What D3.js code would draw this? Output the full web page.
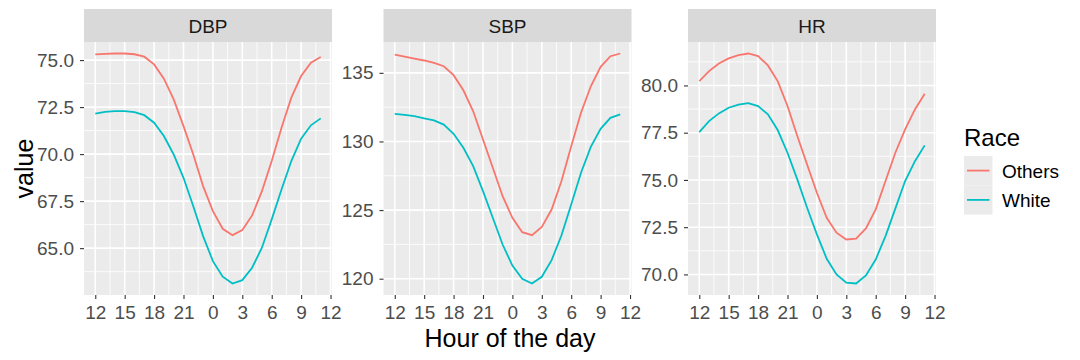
<!DOCTYPE html>
<html>
<head>
<meta charset="utf-8">
<script src="https://cdn.jsdelivr.net/npm/d3@7"></script>
<style>
  body { margin: 0; background: #fff; }
  text { font-family: "Liberation Sans", Arial, sans-serif; }
</style>
</head>
<body>
<svg id="chart" width="1080" height="360"></svg>
<script>
// hour of day, starting at noon
const hours = [12, 13, 14, 15, 16, 17, 18, 19, 20, 21, 22, 23, 0, 1, 2, 3, 4, 5, 6, 7, 8, 9, 10, 11];

const dbpOthers = [75.30, 75.33, 75.35, 75.35, 75.31, 75.18, 74.77, 74.01, 72.91, 71.49, 69.98, 68.30,
  66.97, 66.03, 65.69, 65.96, 66.74, 68.03, 69.63, 71.40, 73.00, 74.15, 74.86, 75.16];
const dbpWhite = [72.15, 72.25, 72.29, 72.29, 72.23, 72.07, 71.67, 70.96, 69.98, 68.74, 67.23, 65.64,
  64.31, 63.48, 63.12, 63.30, 63.96, 65.02, 66.53, 68.12, 69.63, 70.82, 71.53, 71.90];

const sbpOthers = [136.33, 136.19, 136.04, 135.90, 135.73, 135.48, 134.83, 133.73, 132.20, 130.14, 128.08, 126.01,
  124.44, 123.39, 123.17, 123.78, 125.04, 127.10, 129.65, 132.09, 134.02, 135.44, 136.21, 136.41];
const sbpWhite = [132.01, 131.94, 131.84, 131.69, 131.53, 131.23, 130.56, 129.54, 128.20, 126.38, 124.44, 122.49,
  120.96, 119.99, 119.65, 120.14, 121.35, 123.15, 125.41, 127.72, 129.61, 130.92, 131.72, 131.98];

const hrOthers = [80.23, 80.76, 81.16, 81.43, 81.60, 81.69, 81.55, 81.06, 80.23, 78.91, 77.32, 75.82,
  74.32, 73.00, 72.21, 71.85, 71.90, 72.43, 73.44, 74.94, 76.44, 77.67, 78.73, 79.56];
const hrWhite = [77.53, 78.11, 78.52, 78.82, 78.98, 79.06, 78.91, 78.47, 77.64, 76.44, 75.03, 73.53,
  72.12, 70.83, 70.00, 69.56, 69.52, 69.95, 70.79, 72.03, 73.48, 74.94, 75.99, 76.83];

const panelNames = ['DBP', 'SBP', 'HR'];
const xBreaks = [12, 15, 18, 21, 24, 27, 30, 33, 36];
const xLabels = ['12', '15', '18', '21', '0', '3', '6', '9', '12'];
const dbpBreaks = [65, 67.5, 70, 72.5, 75];
const sbpBreaks = [120, 125, 130, 135];
const hrBreaks = [70, 72.5, 75, 77.5, 80];
const raceNames = ['Others', 'White'];
const raceColors = ['#F8766D', '#00BFC4'];

const panels = [
  { name: panelNames[0], series: [dbpOthers, dbpWhite], breaks: dbpBreaks, fmt: d3.format('.1f') },
  { name: panelNames[1], series: [sbpOthers, sbpWhite], breaks: sbpBreaks, fmt: d3.format('d') },
  { name: panelNames[2], series: [hrOthers, hrWhite], breaks: hrBreaks, fmt: d3.format('.1f') },
];

const svg = d3.select('#chart');
const panelLefts = [84, 383.5, 688];
const panelW = 248;
const stripTop = 9, panelTop = 42, panelBottom = 295;

// hours after midnight continue the day: 0 -> 24 ... 11 -> 35
const hourPos = (h) => (h < 12 ? h + 24 : h);

function expand(ext) {
  const pad = (ext[1] - ext[0]) * 0.05;
  return [ext[0] - pad, ext[1] + pad];
}

function minorOf(breaks, domain) {
  const step = breaks[1] - breaks[0];
  return [breaks[0] - step].concat(breaks).map((b) => b + step / 2)
    .filter((v) => v > domain[0] && v < domain[1]);
}

panels.forEach((p, k) => {
  const x0 = panelLefts[k];
  const x = d3.scaleLinear().domain(expand(d3.extent(hours, hourPos))).range([x0, x0 + panelW]);
  const y = d3.scaleLinear().domain(expand(d3.extent(p.series.flat()))).range([panelBottom, panelTop]);
  const g = svg.append('g');

  g.append('rect')
    .attr('x', x0).attr('y', panelTop)
    .attr('width', panelW).attr('height', panelBottom - panelTop)
    .attr('fill', '#EBEBEB');

  // minor grid
  g.selectAll('.xminor').data(minorOf(xBreaks, x.domain())).join('line')
    .attr('x1', (d) => x(d)).attr('x2', (d) => x(d))
    .attr('y1', panelTop).attr('y2', panelBottom)
    .attr('stroke', '#fff').attr('stroke-width', 0.8);
  g.selectAll('.yminor').data(minorOf(p.breaks, y.domain())).join('line')
    .attr('x1', x0).attr('x2', x0 + panelW)
    .attr('y1', (d) => y(d)).attr('y2', (d) => y(d))
    .attr('stroke', '#fff').attr('stroke-width', 0.8);

  // major grid
  g.append('g').selectAll('line').data(xBreaks).join('line')
    .attr('x1', (d) => x(d)).attr('x2', (d) => x(d))
    .attr('y1', panelTop).attr('y2', panelBottom)
    .attr('stroke', '#fff').attr('stroke-width', 1.6);
  g.append('g').selectAll('line').data(p.breaks).join('line')
    .attr('x1', x0).attr('x2', x0 + panelW)
    .attr('y1', (d) => y(d)).attr('y2', (d) => y(d))
    .attr('stroke', '#fff').attr('stroke-width', 1.6);

  const line = d3.line()
    .x((d, i) => x(hourPos(hours[i])))
    .y((d) => y(d));
  p.series.forEach((vals, s) => {
    g.append('path')
      .datum(vals)
      .attr('d', line)
      .attr('fill', 'none')
      .attr('stroke', raceColors[s])
      .attr('stroke-width', 1.8);
  });

  // strip
  g.append('rect')
    .attr('x', x0).attr('y', stripTop)
    .attr('width', panelW).attr('height', panelTop - stripTop)
    .attr('fill', '#D9D9D9');
  g.append('text')
    .attr('x', x0 + panelW / 2).attr('y', 32.5)
    .attr('text-anchor', 'middle').attr('fill', '#1A1A1A').attr('font-size', 19)
    .text(p.name);

  const xAxis = g.append('g').attr('transform', `translate(0,${panelBottom})`)
    .call(d3.axisBottom(x).tickValues(xBreaks).tickFormat((d, i) => xLabels[i]).tickSize(4).tickPadding(6.5));
  const yAxis = g.append('g').attr('transform', `translate(${x0},0)`)
    .call(d3.axisLeft(y).tickValues(p.breaks).tickFormat(p.fmt).tickSize(4).tickPadding(6));
  [xAxis, yAxis].forEach((ax) => {
    ax.select('.domain').remove();
    ax.selectAll('.tick line').attr('stroke', '#333333').attr('stroke-width', 1.1);
    ax.selectAll('.tick text').attr('fill', '#4D4D4D').attr('font-size', 19)
      .attr('font-family', '"Liberation Sans", Arial, sans-serif');
  });
});

// axis titles
svg.append('text')
  .attr('x', (panelLefts[0] + panelLefts[2] + panelW) / 2).attr('y', 346.5)
  .attr('text-anchor', 'middle').attr('fill', '#000').attr('font-size', 25)
  .text('Hour of the day');
svg.append('text')
  .attr('transform', `translate(33,${(panelTop + panelBottom) / 2}) rotate(-90)`)
  .attr('text-anchor', 'middle').attr('fill', '#000').attr('font-size', 25)
  .text('value');

// legend
const legend = svg.append('g').attr('transform', 'translate(964,0)');
legend.append('text').attr('x', 0).attr('y', 145.5)
  .attr('fill', '#000').attr('font-size', 24).text('Race');
raceNames.forEach((name, i) => {
  const top = 156 + i * 29.3;
  legend.append('rect').attr('x', 0).attr('y', top).attr('width', 28.5).attr('height', 29.3).attr('fill', '#EBEBEB');
  legend.append('line')
    .attr('x1', 3).attr('x2', 25.5).attr('y1', top + 14.6).attr('y2', top + 14.6)
    .attr('stroke', raceColors[i]).attr('stroke-width', 1.8);
  legend.append('text').attr('x', 38).attr('y', top + 21.5)
    .attr('fill', '#000').attr('font-size', 19).text(name);
});
</script>
</body>
</html>
